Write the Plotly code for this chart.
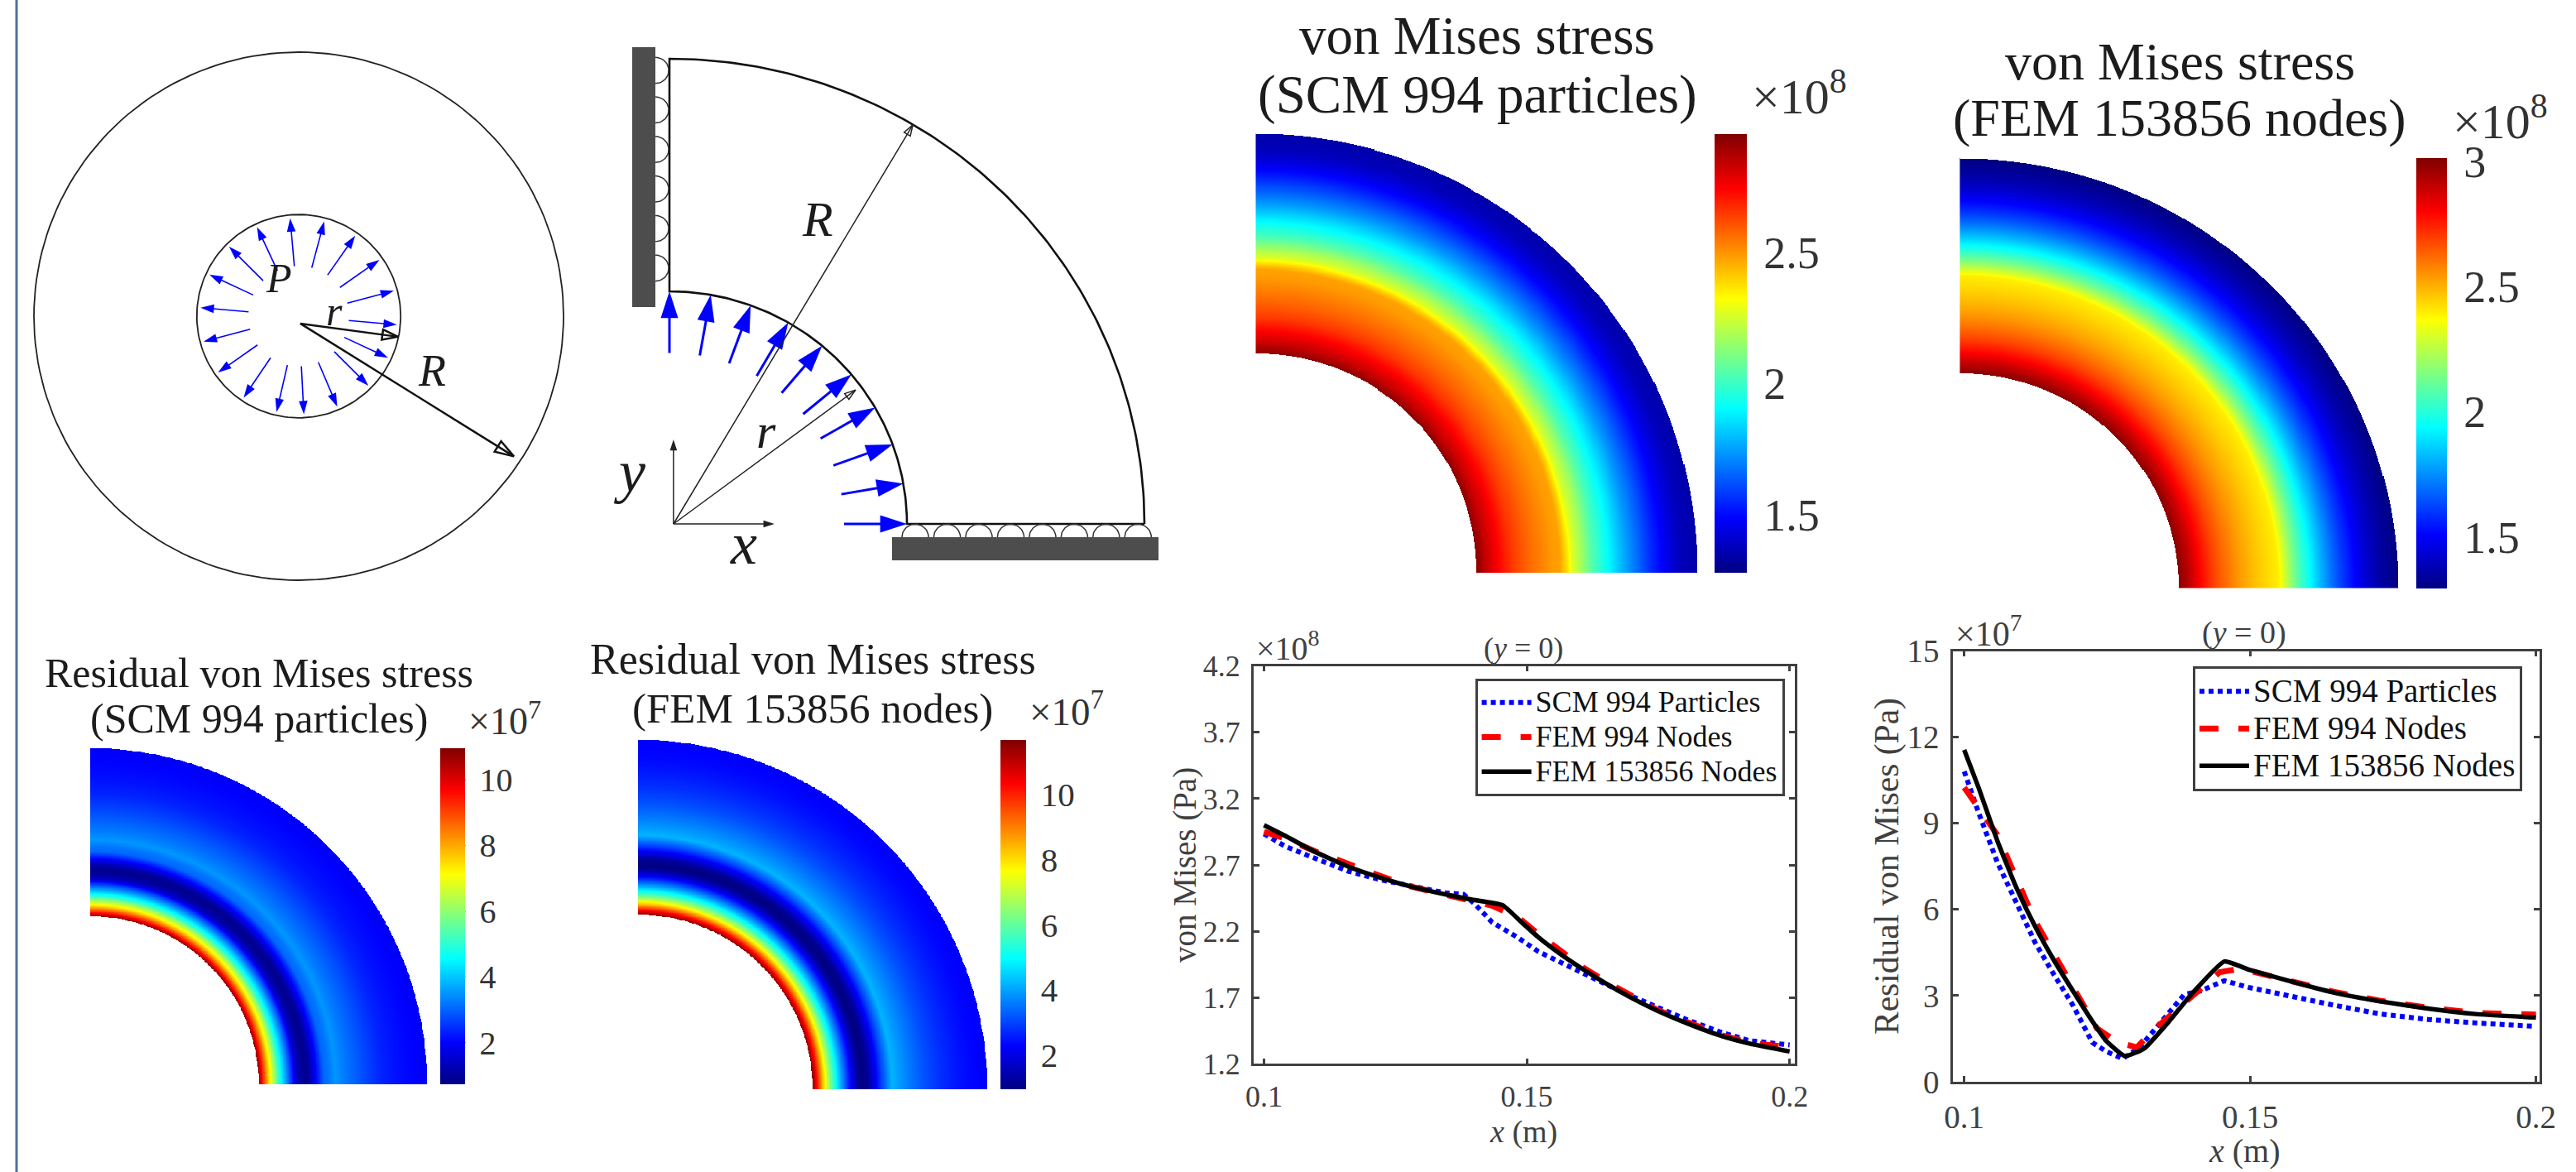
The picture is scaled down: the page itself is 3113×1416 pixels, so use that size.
import numpy as np
import plotly.graph_objects as go

W, H = 3113, 1416
SERIF = "Liberation Serif"
DARK = "#404040"

# ---------- data ----------
# von Mises along y = 0 (units of 1e8 Pa)
vm_scm_x = [.1, .104, .1099, .116, .1225, .128, .1345, .138, .14, .1434, .1482, .1522, .157, .1635, .1683, .1747, .1803, .1867, .1924, .2]
vm_scm_y = [2.935, 2.841, 2.747, 2.653, 2.586, 2.54, 2.49, 2.478, 2.41, 2.268, 2.155, 2.047, 1.953, 1.832, 1.738, 1.63, 1.536, 1.442, 1.375, 1.343]
vm_f994_x = [.1, .104, .1099, .116, .1225, .128, .1345, .1394, .1434, .1466, .149, .1522, .1562, .1602, .1651, .1699, .1747, .1803, .1867, .1924, .2]
vm_f994_y = [2.95, 2.90, 2.80, 2.707, 2.612, 2.537, 2.472, 2.43, 2.392, 2.335, 2.284, 2.18, 2.06, 1.94, 1.82, 1.71, 1.61, 1.52, 1.42, 1.36, 1.326]
vm_f153_x = [.1, .104, .1099, .116, .1225, .128, .1345, .1394, .1454, .149, .1522, .1562, .1602, .1651, .1699, .1747, .1803, .1867, .1924, .2]
vm_f153_y = [3.0, 2.92, 2.795, 2.688, 2.6, 2.537, 2.478, 2.44, 2.397, 2.268, 2.155, 2.034, 1.926, 1.805, 1.698, 1.604, 1.509, 1.415, 1.353, 1.294]

# residual von Mises along y = 0 (units of 1e7 Pa)
rs_scm_x = [.1, .1025, .1058, .1091, .1124, .1157, .119, .1224, .1248, .1277, .1306, .1348, .1385, .1414, .1455, .1497, .1563, .1646, .1728, .1811, .1894, .2]
rs_scm_y = [10.81, 9.38, 7.64, 6.28, 4.85, 3.73, 2.67, 1.37, 1.06, .81, 1.18, 2.17, 3.04, 3.17, 3.52, 3.29, 3.01, 2.67, 2.36, 2.17, 2.05, 1.93]
rs_f994_x = [.1, .1025, .1058, .1091, .1124, .1157, .119, .1232, .1269, .1302, .1331, .1373, .1414, .1447, .1484, .1563, .1646, .1728, .1811, .1894, .2]
rs_f994_y = [10.25, 9.55, 8.6, 7.1, 5.6, 4.45, 3.3, 1.86, 1.37, 1.2, 1.8, 2.55, 3.29, 3.82, 3.94, 3.57, 3.14, 2.82, 2.58, 2.4, 2.34]
rs_f153_x = [.1, .1025, .1058, .1091, .1124, .1157, .119, .1224, .1248, .1281, .1315, .1356, .1397, .1455, .1497, .1563, .1646, .1728, .1811, .1894, .2]
rs_f153_y = [11.56, 10.25, 8.39, 6.77, 5.41, 4.23, 3.17, 2.11, 1.43, .895, 1.16, 2.05, 3.04, 4.19, 3.91, 3.54, 3.11, 2.8, 2.55, 2.36, 2.24]

series_names = ["SCM 994 Particles", "FEM 994 Nodes", "FEM 153856 Nodes"]
vm_yticks = [1.2, 1.7, 2.2, 2.7, 3.2, 3.7, 4.2]
rs_yticks = [0, 3, 6, 9, 12, 15]
x_ticks = [.1, .15, .2]
x_ticktext = ["0.1", "0.15", "0.2"]
vm_cb_ticks = [1.5, 2, 2.5]
vm_cb_ticks_fem = [1.5, 2, 2.5, 3]
rs_cb_ticks = [2, 4, 6, 8, 10]

disk_arrow_angles = [95, 75, 55, 35, 15, -5, -25, -45, -67, -87, -103, -124, -145, -165, 175, 155, 135, 115]
quarter_arrow_angles = [90, 80, 70, 60, 50, 40, 30, 20, 10, 0]
wall_roller_y = [.195, .178, .161, .144, .127, .110]
floor_roller_x = [.1035, .1169, .1303, .1437, .1571, .1705, .1839, .1973]

JET = [[0, "rgb(0,0,130)"], [.125, "rgb(0,0,255)"], [.375, "rgb(0,255,255)"],
       [.625, "rgb(255,255,0)"], [.875, "rgb(255,0,0)"], [1, "rgb(128,0,0)"]]

fig = go.Figure()
layout = {}
annotations = []
shapes = []


def dom_x(a, b):
    return [a / W, b / W]


def dom_y(top, bottom):
    return [1 - bottom / H, 1 - top / H]


def txt(x, y, text, size, color="#1c1c1c", angle=0, anchor="center"):
    annotations.append(dict(x=x / W, y=1 - y / H, xref="paper", yref="paper", text=text, showarrow=False,
                            xanchor=anchor, yanchor="middle", textangle=angle,
                            font=dict(family=SERIF, size=size, color=color)))


def hidden_axes(n, x_px, y_px, xr, yr):
    layout[f"xaxis{n}"] = dict(domain=dom_x(*x_px), range=xr, visible=False, anchor=f"y{n}")
    layout[f"yaxis{n}"] = dict(domain=dom_y(*y_px), range=yr, visible=False, anchor=f"x{n}")


def arrow(n, tail, head, color="black", width=1.5, size=15, symbol="arrow"):
    marker = dict(symbol=["circle", symbol], size=[0, size], angleref="previous", color=color, opacity=1,
                  line=dict(color=color, width=width if symbol.endswith("open") else 0))
    fig.add_trace(go.Scatter(x=[tail[0], head[0]], y=[tail[1], head[1]], mode="lines+markers", marker=marker,
                             line=dict(color=color, width=width), xaxis=f"x{n}", yaxis=f"y{n}",
                             showlegend=False, hoverinfo="skip", cliponaxis=False))


def line_chart(n, x_px, y_px, xr, yr, yticks, size, sets, legend_name, legend_px, legend_step):
    xa = "x" if n == 1 else f"x{n}"
    ya = "y" if n == 1 else f"y{n}"
    suffix = "" if n == 1 else str(n)
    common = dict(showgrid=False, zeroline=False, ticks="inside", ticklen=7, tickwidth=2.5, tickcolor=DARK,
                  showline=True, linecolor=DARK, linewidth=2.5, mirror="ticks",
                  tickfont=dict(family=SERIF, size=size, color=DARK))
    layout[f"xaxis{suffix}"] = dict(domain=dom_x(*x_px), range=xr, tickvals=x_ticks, ticktext=x_ticktext,
                                    anchor=ya, ticklabelstandoff=6, **common)
    layout[f"yaxis{suffix}"] = dict(domain=dom_y(*y_px), range=yr, tickvals=yticks,
                                    ticktext=[str(v) for v in yticks], anchor=xa, ticklabelstandoff=6, **common)
    styles = [dict(color="#0000FF", width=6, dash="6px,5px"),
              dict(color="#FF0000", width=7, dash="23px,24px"),
              dict(color="black", width=5.5, shape="spline", smoothing=0.4)]
    for (xs, ys), name, st in zip(sets, series_names, styles):
        label = f'<span style="font-size:{size}px">{name}</span>'
        fig.add_trace(go.Scatter(x=xs, y=ys, mode="lines", name=label, line=st, xaxis=xa, yaxis=ya,
                                 legend=legend_name))
    layout[legend_name] = dict(x=legend_px[0] / W, y=1 - legend_px[1] / H, xanchor="left", yanchor="top",
                               bgcolor="white", bordercolor=DARK, borderwidth=3, itemwidth=60,
                               font=dict(family=SERIF, size=(legend_step - 3) / 1.3, color="#111"),
                               tracegroupgap=0)


def contour_panel(n, x_px, y_px, rx, ry, zrange, cb_x, cb_w, ticks, tick_size):
    grid = np.linspace(0, 0.2, 520)
    gx, gy = np.meshgrid(grid, grid)
    rad = np.hypot(gx, gy)
    z = np.interp(rad, rx, ry).astype("float32")
    z[(rad < .1) | (rad > .2)] = np.nan
    hidden_axes(n, x_px, y_px, [0, .2], [0, .2])
    fig.add_trace(go.Heatmap(
        x=grid, y=grid, z=z, xaxis=f"x{n}", yaxis=f"y{n}", colorscale=JET, zmin=zrange[0], zmax=zrange[1],
        hoverongaps=False,
        colorbar=dict(x=cb_x / W, xanchor="left", xref="paper", y=1 - y_px[1] / H, yanchor="bottom", yref="paper",
                      len=y_px[1] - y_px[0], lenmode="pixels", thickness=cb_w, thicknessmode="pixels",
                      xpad=0, ypad=0, outlinewidth=0, tickvals=ticks, ticktext=[f"{v:g}" for v in ticks],
                      ticks="outside", ticklen=10, tickcolor="rgba(0,0,0,0)",
                      tickfont=dict(family=SERIF, size=tick_size, color="#333"))))
    # the small inward tick marks of the colour bar
    for v in ticks:
        yp = y_px[1] - (v - zrange[0]) / (zrange[1] - zrange[0]) * (y_px[1] - y_px[0])
        shapes.append(dict(type="line", xref="paper", yref="paper", x0=(cb_x + cb_w - 5) / W, x1=(cb_x + cb_w) / W,
                           y0=1 - yp / H, y1=1 - yp / H, line=dict(color="#333", width=1.5)))


# ---------- schematic 1: disk ----------
hidden_axes(7, (30, 692), (51, 713), [-331 / 320, 331 / 320], [-331 / 319, 331 / 319])
t = np.radians(np.arange(0, 361, 2))
for radius, lw in ((1.0, 1.8), (.385, 1.8)):
    fig.add_trace(go.Scatter(x=radius * np.cos(t), y=radius * np.sin(t), mode="lines", xaxis="x7", yaxis="y7",
                             line=dict(color="#222", width=lw), showlegend=False, hoverinfo="skip"))
for a in disk_arrow_angles:
    c, s = np.cos(np.radians(a)), np.sin(np.radians(a))
    arrow(7, (.19 * c, .19 * s), (.372 * c, .372 * s), color="#0000FF", width=1.6, size=17)
arrow(7, (.006, -.028), (.375, -.078), color="#111", width=2.5, size=20, symbol="arrow-open")
arrow(7, (.006, -.028), (.8125, -.531), color="#111", width=2.5, size=24, symbol="arrow-open")
txt(337, 336, "<i>P</i>", 50)
txt(404, 376, "<i>r</i>", 50)
txt(522, 448, "<i>R</i>", 54)

# ---------- schematic 2: quarter annulus ----------
SX, SY = 2870.0, 2810.0
hidden_axes(8, (740, 1420), (40, 700), [(740 - 809) / SX, (1420 - 809) / SX], [(633 - 700) / SY, (633 - 40) / SY])
arc = np.radians(np.linspace(0, 90, 120))
bx = np.r_[.2 * np.cos(arc), .1 * np.cos(arc[::-1]), .2]
by = np.r_[.2 * np.sin(arc), .1 * np.sin(arc[::-1]), 0]
fig.add_trace(go.Scatter(x=bx, y=by, mode="lines", xaxis="x8", yaxis="y8", line=dict(color="#111", width=2.6),
                         showlegend=False, hoverinfo="skip"))
half = np.radians(np.linspace(-90, 90, 30))
for yc in wall_roller_y:
    fig.add_trace(go.Scatter(x=-.0059 + .0056 * np.cos(half), y=yc + .0056 * np.sin(half), mode="lines", xaxis="x8",
                             yaxis="y8", line=dict(color="#333", width=1.5), showlegend=False, hoverinfo="skip"))
for xc in floor_roller_x:
    fig.add_trace(go.Scatter(x=xc + .0056 * np.sin(half), y=-.0057 + .0056 * np.cos(half), mode="lines", xaxis="x8",
                             yaxis="y8", line=dict(color="#333", width=1.5), showlegend=False, hoverinfo="skip"))
shapes.append(dict(type="rect", xref="x8", yref="y8", x0=(764 - 809) / SX, x1=(792 - 809) / SX,
                   y0=(633 - 371) / SY, y1=(633 - 57) / SY, fillcolor="#4d4d4d", line_width=0))
shapes.append(dict(type="rect", xref="x8", yref="y8", x0=(1078 - 809) / SX, x1=(1400 - 809) / SX,
                   y0=(633 - 677) / SY, y1=(633 - 649) / SY, fillcolor="#4d4d4d", line_width=0))
for a in quarter_arrow_angles:
    c, s = np.cos(np.radians(a)), np.sin(np.radians(a))
    arrow(8, (.0735 * c, .0735 * s), (.1 * c, .1 * s), color="#0000FF", width=3, size=34)
o = (.0017, 0)
arrow(8, o, (.1025, .1716), color="#222", width=1.5, size=14, symbol="arrow-open")
arrow(8, o, (.0784, .0576), color="#222", width=1.5, size=14, symbol="arrow-open")
arrow(8, o, (.0017, .0363), color="#222", width=1.5, size=14)
arrow(8, o, (.0442, 0), color="#222", width=1.5, size=14)
txt(988, 265, "<i>R</i>", 60)
txt(926, 521, "<i>r</i>", 60)
txt(760, 570, "<i>y</i>", 72)
txt(898, 657, "<i>x</i>", 72)

# ---------- stress maps ----------
contour_panel(3, (1517.5, 2051), (161.6, 692), vm_scm_x, vm_scm_y, (1.278, 2.953), 2071.6, 39, vm_cb_ticks, 54)
contour_panel(4, (2368.4, 2898.5), (191, 710.5), vm_f153_x, vm_f153_y, (1.296, 3.014), 2920, 37, vm_cb_ticks_fem, 54)
contour_panel(5, (109, 516.6), (904, 1310), rs_scm_x, rs_scm_y, (.73, 10.96), 532.4, 30, rs_cb_ticks, 40)
contour_panel(6, (771, 1193), (894, 1316), rs_f153_x, rs_f153_y, (.95, 11.68), 1209, 31, rs_cb_ticks, 41)

txt(1785, 43, "von Mises stress", 65)
txt(1785, 114, "(SCM 994 particles)", 65)
txt(2634, 75, "von Mises stress", 64)
txt(2634, 142, "(FEM 153856 nodes)", 64)
txt(313, 813, "Residual von Mises stress", 50)
txt(313, 868, "(SCM 994 particles)", 50)
txt(982, 796, "Residual von Mises stress", 52)
txt(982, 856, "(FEM 153856 nodes)", 51)
txt(2174, 112, "×10<sup>8</sup>", 60, "#333")
txt(3021, 142, "×10<sup>8</sup>", 60, "#333")
txt(610, 868, "×10<sup>7</sup>", 46, "#333")
txt(1289, 856, "×10<sup>7</sup>", 47, "#333")

# ---------- line charts ----------
line_chart(1, (1514.8, 2168.9), (804.7, 1285.4), [.098, .20098], [1.2, 4.2], vm_yticks, 36,
           [(vm_scm_x, vm_scm_y), (vm_f994_x, vm_f994_y), (vm_f153_x, vm_f153_y)], "legend", (1782.6, 820), 41.7)
line_chart(2, (2360, 3068.6), (786.6, 1307), [.09802, .20058], [0, 15], rs_yticks, 39,
           [(rs_scm_x, rs_scm_y), (rs_f994_x, rs_f994_y), (rs_f153_x, rs_f153_y)], "legend2", (2650, 804.7), 45)
txt(1432, 1045, "von Mises (Pa)", 39, DARK, angle=-90)
txt(1841, 1367, "<i>x</i> (m)", 38, DARK)
txt(1841, 783, "(<i>y</i> = 0)", 36, DARK)
txt(1556, 780, "×10<sup>8</sup>", 40, DARK)
txt(2280, 1047, "Residual von Mises (Pa)", 41.5, DARK, angle=-90)
txt(2712, 1390, "<i>x</i> (m)", 40, DARK)
txt(2712, 764, "(<i>y</i> = 0)", 38, DARK)
txt(2403, 762, "×10<sup>7</sup>", 42, DARK)

# page-edge rule at the far left
shapes.append(dict(type="line", xref="paper", yref="paper", x0=20 / W, x1=20 / W, y0=0, y1=1,
                   line=dict(color="#4f719c", width=3)))

fig.update_layout(width=W, height=H, margin=dict(l=0, r=0, t=0, b=0, pad=0, autoexpand=False),
                  paper_bgcolor="white", plot_bgcolor="rgba(0,0,0,0)", annotations=annotations, shapes=shapes,
                  font=dict(family=SERIF), **layout)
fig.write_html("out.html", config=dict(displayModeBar=False),
               post_script="document.body.style.margin='0';document.body.style.overflow='hidden';")
